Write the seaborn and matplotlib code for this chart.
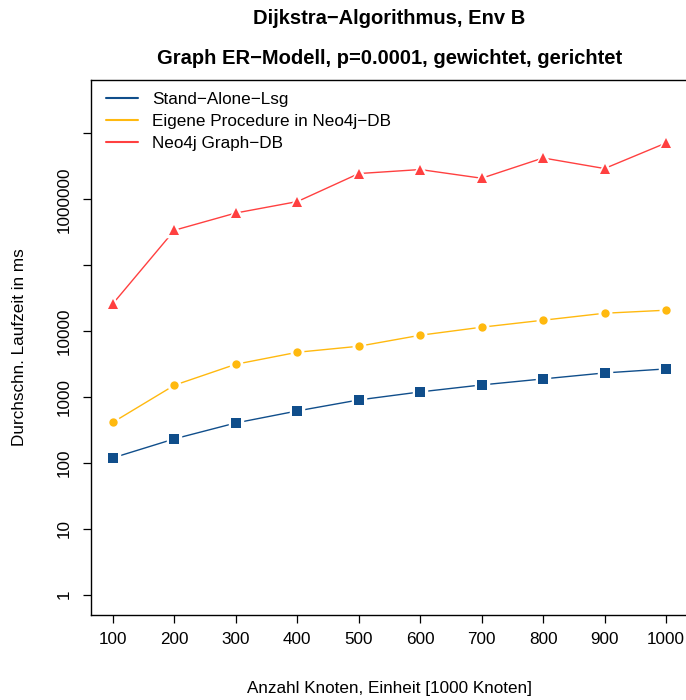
import matplotlib
matplotlib.use("Agg")
import matplotlib.pyplot as plt
import seaborn as sns
import pandas as pd
import numpy as np
from matplotlib.lines import Line2D

# ---- data ----
knoten = [100, 200, 300, 400, 500, 600, 700, 800, 900, 1000]
standalone = [119, 231, 403, 613, 900, 1191, 1520, 1876, 2311, 2661]
eigene_proc = [413, 1506, 3133, 4762, 5875, 8630, 11430, 14590, 18620, 20700]
neo4j_db = [26140, 338800, 619000, 922000, 2455000, 2825000, 2085000, 4236000, 2925000, 7145000]
series_names = ["Stand\u2212Alone\u2212Lsg", "Eigene Procedure in Neo4j\u2212DB", "Neo4j Graph\u2212DB"]
y_ticks = [1, 10, 100, 1000, 10000, 100000, 1000000, 10000000]
y_ticklabels = ["1", "10", "100", "1000", "10000", "", "1000000", ""]
x_ticks = knoten

sns.set_style("white")
plt.rcParams['font.family'] = ['Liberation Sans', 'DejaVu Sans']
plt.rcParams['text.color'] = 'black'
plt.rcParams['axes.labelcolor'] = 'black'
plt.rcParams['xtick.color'] = 'black'
plt.rcParams['ytick.color'] = 'black'

FS = 12.3
W, H = 686, 700
fig = plt.figure(figsize=(W / 100, H / 100), dpi=100)
left_px, right_px, top_px, bot_px = 90.9, 688.1, 80, 615
ax = fig.add_axes([left_px / W, 1 - bot_px / H, (right_px - left_px) / W, (bot_px - top_px) / H])

colors = ["#104E8B", "#FFB90F", "#FF4040"]
markers = ["s", "o", "^"]
msizes = [8, 7.5, 8.5]
data = [standalone, eigene_proc, neo4j_db]

for vals, c, m, ms in zip(data, colors, markers, msizes):
    df = pd.DataFrame({"x": knoten, "y": vals})
    sns.lineplot(data=df, x="x", y="y", ax=ax, color=c, linewidth=1.0,
                 marker=m, markersize=ms, markeredgecolor="white", markeredgewidth=2.5,
                 legend=False)
    ax.plot(knoten, vals, linestyle="none", marker=m, markersize=ms - 1.5, color=c,
            markeredgewidth=0, zorder=5)

ax.set_yscale("log")
ax.set_xlim(64, 1036)
ax.set_ylim(10 ** -0.31, 10 ** 7.81)
ax.set_xticks(x_ticks)
ax.set_xticklabels([str(v) for v in x_ticks], fontsize=FS)
ax.set_yticks(y_ticks)
ax.set_yticklabels(y_ticklabels, fontsize=FS, rotation=90, va="center")
ax.yaxis.set_minor_locator(matplotlib.ticker.NullLocator())
ax.tick_params(axis="both", which="major", direction="out", length=6, width=0.9,
               color="black", bottom=True, left=True, labelcolor="black")
ax.tick_params(axis="x", pad=6)
ax.tick_params(axis="y", pad=8)
for s in ax.spines.values():
    s.set_color("black")
    s.set_linewidth(1.0)

ax.set_xlabel("Anzahl Knoten, Einheit [1000 Knoten]", fontsize=FS, color="black")
ax.set_ylabel("Durchschn. Laufzeit in ms", fontsize=FS, color="black")
aw = right_px - left_px
ah = bot_px - top_px
ax.xaxis.set_label_coords((389 - left_px) / aw, -(688 - bot_px) / ah)
ax.yaxis.set_label_coords(-(left_px - 20) / aw, 0.5)
ax.xaxis.label.set_va("center")
ax.yaxis.label.set_va("center")

cx = (left_px + right_px) / 2 / W
fig.text(cx, 1 - 18 / H, "Dijkstra\u2212Algorithmus, Env B", ha="center", va="center",
         fontsize=14.5, fontweight="bold", color="black")
fig.text(cx, 1 - 59 / H, "Graph ER\u2212Modell, p=0.0001, gewichtet, gerichtet", ha="center", va="center",
         fontsize=14.5, fontweight="bold", color="black")

handles = [Line2D([0], [0], color=c, lw=1.5) for c in colors]
leg = ax.legend(handles, series_names, loc="upper left",
                bbox_to_anchor=((106 - left_px) / aw, 1 - (92 - top_px) / ah),
                frameon=False, fontsize=FS, handlelength=1.85, handletextpad=0.85,
                labelspacing=0.4, borderaxespad=0, borderpad=0)
for t in leg.get_texts():
    t.set_color("black")

fig.savefig("out.png", dpi=100)
